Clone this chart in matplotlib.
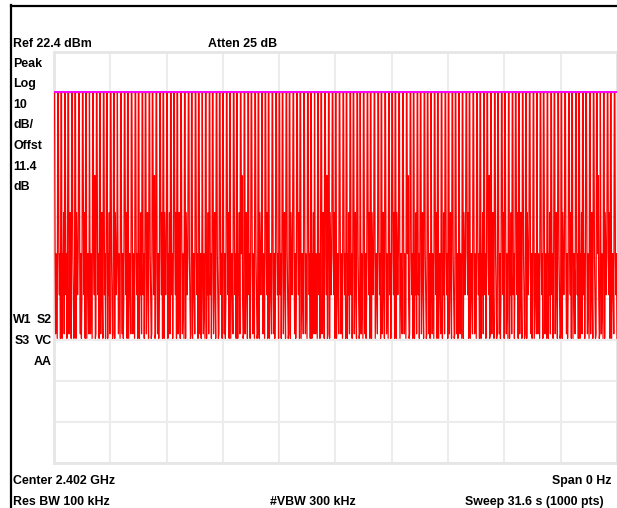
import numpy as np
import matplotlib
matplotlib.use("Agg")
import matplotlib.pyplot as plt
from matplotlib.lines import Line2D

# analyzer settings
ref_dbm = 22.4
db_per_div = 10
sweep_s = 31.6
display_line_db = -9.7   # relative to ref

# trace levels (dB below ref) for each code digit
level_db = [-9.7, -30.0, -39.0, -44.0, -49.0, -54.0, -59.0, -67.0, -68.5, -69.6]

# trace, one row per division, each digit = one sweep point
trace_rows = [
    "0048469 004649 0094628 006495 0084269 004698 0092464 0058496 004629 0096458 048469 0046198 004649 0084269 006495 0094628",
    "004698 0092464 048469 0058496 004629 0096458 0048469 004649 0094628 006495 0084269 004698 0046198 0058496 004629 0092464",
    "0094628 006495 004629 0084269 0048469 0092464 004698 0096458 004649 0058496 048469 0094628 006495 0084269 004698 004649",
    "0058496 004629 0096458 004649 0094628 0041698 0084269 006495 0048469 004698 0092464 048469 004629 0096458 0058496 004649",
    "006495 0084269 004698 0092464 0058496 004629 0096458 0048469 004649 0094628 048469 006495 0084269 0046198 0092464 004629",
    "0096458 0048469 004649 0094628 006495 0084269 004698 048469 0058496 004629 0092464 0096458 004649 0084269 0048469 006495",
    "004629 0092464 0096458 0048469 0041698 004649 0094628 006495 0084269 004698 0058496 048469 004629 0096458 0094628 004649",
    "0084269 004698 0058496 048469 0092464 004629 0096458 0048469 004649 0094628 006495 0046198 0084269 004698 0058496 004629",
    "0048469 0094628 006495 004629 0084269 004698 0092464 0058496 0096458 048469 004649 0048469 0094628 006495 0084269 004698",
    "0092464 0058496 004629 0096458 004649 0094628 006495 0048469 0084269 004698 0041698 048469 0092464 004629 0096458 004649",
]

top_left = ["Ref 22.4 dBm", "Atten 25 dB"]
left_col = ["Peak", "Log", "10", "dB/", "Offst", "11.4", "dB"]
mid_left = ["W1", "S3", ""]
mid_right = ["S2", "VC", "AA"]
bottom_row1 = ["Center 2.402 GHz", "Span 0 Hz"]
bottom_row2 = ["Res BW 100 kHz", "#VBW 300 kHz", "Sweep 31.6 s (1000 pts)"]

codes = "".join(r.replace(" ", "") for r in trace_rows)
trace = ref_dbm + np.array([level_db[int(c)] for c in codes])
t = np.linspace(0, sweep_s, len(trace))

W, H = 617, 508
fig = plt.figure(figsize=(W / 100, H / 100), dpi=100)
fig.patch.set_facecolor("white")

def fx(x):
    return x / W

def fy(y):
    return 1 - y / H

ax = fig.add_axes([fx(54), fy(463.3), (617 - 54) / W, (463.3 - 52.3) / H])
ax.set_xlim(0, sweep_s)
ax.set_ylim(ref_dbm - 10 * db_per_div, ref_dbm)
ax.set_xticks(np.linspace(0, sweep_s, 11))
ax.set_yticks(ref_dbm - db_per_div * np.arange(11))
ax.tick_params(length=0, labelbottom=False, labelleft=False)
ax.grid(True, color="#ececec", lw=1.5)
for s in ax.spines.values():
    s.set_color("#e6e6e6")
    s.set_linewidth(2)

ax.plot(t, trace, color="#ff0000", lw=0.9, zorder=3)
ax.axhline(ref_dbm + display_line_db, color="#ff00ff", lw=1.4, zorder=4)

# outer instrument frame
fig.add_artist(Line2D([fx(11), fx(11)], [fy(5), 0], color="black", lw=1.6))
fig.add_artist(Line2D([fx(11), 1], [fy(6), fy(6)], color="black", lw=1.6))

font = dict(family=["Liberation Sans", "DejaVu Sans"],
            size=8.9, weight="bold", color="black", va="baseline")

fig.text(fx(13), fy(47), top_left[0], ha="left", **font)
fig.text(fx(208), fy(47), top_left[1], ha="left", **font)

left_y = [66.7, 87.3, 108, 128.5, 149, 170, 190.5]
for s, y in zip(left_col, left_y):
    fig.text(fx(13), fy(y), s, ha="left", **font)

mid_y = [322.7, 344, 365]
mid_x = [13, 15, 15]
for sl, sr, x, y in zip(mid_left, mid_right, mid_x, mid_y):
    fig.text(fx(x), fy(y), sl, ha="left", **font)
    fig.text(fx(52), fy(y), sr, ha="right", **font)

fig.text(fx(13), fy(484), bottom_row1[0], ha="left", **font)
fig.text(fx(612), fy(484), bottom_row1[1], ha="right", **font)
fig.text(fx(13), fy(505), bottom_row2[0], ha="left", **font)
fig.text(fx(270), fy(505), bottom_row2[1], ha="left", **font)
fig.text(fx(604), fy(505), bottom_row2[2], ha="right", **font)

fig.savefig("out.png", dpi=100, facecolor="white")
